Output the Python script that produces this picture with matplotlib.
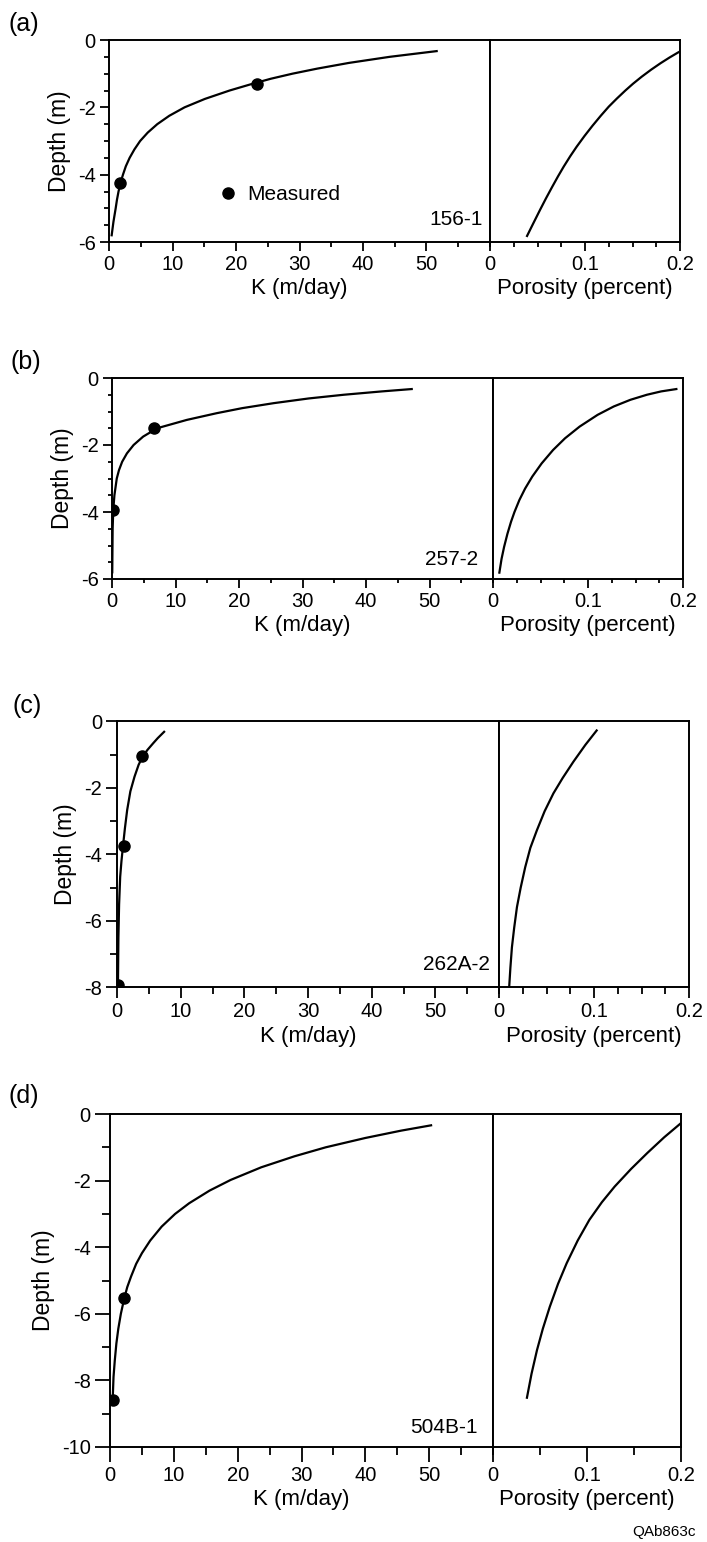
import matplotlib
matplotlib.use('Agg')
import matplotlib.pyplot as plt
from matplotlib.ticker import MultipleLocator

plt.rcParams['font.family'] = ['Liberation Sans', 'DejaVu Sans']
plt.rcParams['axes.unicode_minus'] = False

# ---- data ----
panel_letters = ['(a)', '(b)', '(c)', '(d)']
well_names = ['156-1', '257-2', '262A-2', '504B-1']
depth_min = [-6, -6, -8, -10]

k_ticks = [0, 10, 20, 30, 40, 50]
por_ticks = [0, 0.1, 0.2]
por_tick_labels = ['0', '0.1', '0.2']

# (a) 156-1
a_k_depth = [-0.33, -0.5, -0.68, -0.85, -1.0, -1.15, -1.3, -1.5, -1.75, -2.0, -2.25, -2.5,
             -2.75, -3.0, -3.25, -3.5, -3.75, -4.0, -4.25, -4.5, -4.75, -5.0, -5.4, -5.8]
a_k = [51.6, 44.2, 37.8, 32.8, 28.9, 25.5, 22.6, 19.0, 15.1, 11.9, 9.5, 7.6,
       6.1, 4.9, 4.0, 3.25, 2.65, 2.2, 1.8, 1.5, 1.25, 1.05, 0.7, 0.42]
a_meas_k = [23.3, 1.8]
a_meas_depth = [-1.3, -4.25]
a_por_depth = [-0.34, -0.37, -0.52, -0.69, -0.88, -1.09, -1.3, -1.5, -1.74, -1.98, -2.25,
               -2.55, -2.85, -3.17, -3.45, -3.76, -4.05, -4.36, -4.7, -5.05, -5.45, -5.82]
a_por = [0.2, 0.198, 0.189, 0.1795, 0.1697, 0.1597, 0.1505, 0.1425, 0.1335, 0.125, 0.1166,
         0.1078, 0.0995, 0.0912, 0.0845, 0.0776, 0.0716, 0.0655, 0.059, 0.0526, 0.0455, 0.039]

# (b) 257-2
b_k_depth = [-0.33, -0.4, -0.5, -0.61, -0.75, -0.9, -1.05, -1.25, -1.5, -1.75, -2.0,
             -2.25, -2.5, -2.75, -3.0, -3.5, -3.94, -4.5, -5.8]
b_k = [47.2, 42.5, 36.5, 31.0, 25.5, 20.5, 16.5, 11.8, 7.1, 4.9, 3.4,
       2.35, 1.6, 1.1, 0.75, 0.38, 0.2, 0.1, 0.04]
b_meas_k = [6.6, 0.2]
b_meas_depth = [-1.5, -3.94]
b_por_depth = [-0.33, -0.4, -0.5, -0.65, -0.85, -1.1, -1.45, -1.8, -2.15, -2.55, -2.94,
               -3.3, -3.64, -4.0, -4.29, -4.65, -5.04, -5.4, -5.81]
b_por = [0.193, 0.177, 0.162, 0.1447, 0.1271, 0.1101, 0.0912, 0.0758, 0.0632, 0.0512, 0.0414,
         0.0338, 0.0278, 0.0226, 0.019, 0.0152, 0.0117, 0.009, 0.0067]

# (c) 262A-2
c_k_depth = [-0.31, -0.5, -0.65, -0.85, -1.03, -1.3, -1.66, -2.1, -2.66, -3.2, -3.73,
             -4.2, -4.67, -5.5, -6.5, -7.92]
c_k = [7.4, 6.4, 5.7, 4.8, 4.1, 3.4, 2.75, 2.1, 1.6, 1.25, 0.95,
       0.7, 0.5, 0.33, 0.22, 0.15]
c_meas_k = [4.0, 1.15, 0.2]
c_meas_depth = [-1.03, -3.73, -7.92]
c_por_depth = [-0.27, -0.7, -1.21, -1.7, -2.16, -2.7, -3.27, -3.8, -4.38, -5.0, -5.58,
               -6.2, -6.79, -7.4, -7.95]
c_por = [0.1028, 0.091, 0.0783, 0.067, 0.0573, 0.048, 0.0399, 0.033, 0.0276, 0.0228, 0.0189,
         0.016, 0.0136, 0.012, 0.0108]

# (d) 504B-1
d_k_depth = [-0.34, -0.5, -0.72, -1.0, -1.27, -1.6, -1.98, -2.3, -2.68, -3.0, -3.38, -3.8,
             -4.18, -4.5, -4.88, -5.2, -5.53, -6.0, -6.45, -6.89, -7.4, -7.9, -8.58]
d_k = [50.3, 45.6, 40.0, 33.8, 28.9, 23.7, 18.9, 15.6, 12.4, 10.2, 8.1, 6.3,
       5.0, 4.1, 3.3, 2.7, 2.24, 1.7, 1.3, 1.0, 0.75, 0.55, 0.42]
d_meas_k = [2.24, 0.42]
d_meas_depth = [-5.53, -8.58]
d_por_depth = [-0.29, -0.7, -1.17, -1.65, -2.18, -2.65, -3.18, -3.8, -4.48, -5.1, -5.79,
               -6.45, -7.09, -7.8, -8.52]
d_por = [0.1993, 0.1821, 0.1642, 0.1469, 0.1294, 0.1158, 0.1025, 0.0901, 0.0784, 0.0692, 0.0604,
         0.053, 0.0468, 0.041, 0.0361]

k_curves = [(a_k, a_k_depth), (b_k, b_k_depth), (c_k, c_k_depth), (d_k, d_k_depth)]
measured = [(a_meas_k, a_meas_depth), (b_meas_k, b_meas_depth),
            (c_meas_k, c_meas_depth), (d_meas_k, d_meas_depth)]
por_curves = [(a_por, a_por_depth), (b_por, b_por_depth),
              (c_por, c_por_depth), (d_por, d_por_depth)]

# ---- layout (pixels) ----
W, H = 707, 1542
# left, mid, right, top, bottom
boxes = [(109, 490, 680, 40, 242),
         (112, 493, 683, 378, 579),
         (117, 499, 689, 721.5, 987.5),
         (110, 493, 681, 1114, 1447)]
letter_pos = [(8, 24), (10, 362), (13, 706), (8, 1096)]
name_pos = [(0.98, 0.11), (0.961, 0.095), (0.975, 0.085), (0.961, 0.06)]
y_minor = [0.5, 0.5, 1, 1]
por_minor = [0.025, 0.025, 0.025, 0.05]
tick_len = [(6.5, 3.6), (6.5, 3.2), (7.7, 5.0), (10.8, 5.8)]


def to_fig(l, r, t, b):
    return [l / W, 1 - b / H, (r - l) / W, (b - t) / H]


fig = plt.figure(figsize=(W / 100, H / 100), dpi=100)

for i in range(4):
    l, m, r, t, b = boxes[i]
    axk = fig.add_axes(to_fig(l, m, t, b))
    axp = fig.add_axes(to_fig(m, r, t, b))

    kx, ky = k_curves[i]
    axk.plot(kx, ky, color='black', lw=1.6)
    mx, my = measured[i]
    dots = axk.plot(mx, my, 'o', color='black', ms=8, ls='none', label='Measured')[0]
    px, py = por_curves[i]
    axp.plot(px, py, color='black', lw=1.6)

    axk.set_xlim(0, 60)
    axk.set_ylim(depth_min[i], 0)
    axk.set_xticks(k_ticks)
    axk.set_xticklabels([str(v) for v in k_ticks])
    axk.xaxis.set_minor_locator(MultipleLocator(5))
    axk.yaxis.set_major_locator(MultipleLocator(2))
    axk.yaxis.set_minor_locator(MultipleLocator(y_minor[i]))
    axk.set_yticklabels([str(int(v)) for v in axk.get_yticks()])

    axp.set_xlim(0, 0.2)
    axp.set_ylim(depth_min[i], 0)
    axp.set_xticks(por_ticks)
    axp.set_xticklabels(por_tick_labels)
    axp.xaxis.set_minor_locator(MultipleLocator(por_minor[i]))
    axp.set_yticks([])

    maj, mnr = tick_len[i]
    for ax in (axk, axp):
        for s in ax.spines.values():
            s.set_linewidth(1.4)
        ax.tick_params(which='major', direction='out', length=maj, width=1.3,
                       labelsize=14.5, pad=3)
        ax.tick_params(which='minor', direction='out', length=mnr, width=1.3)

    axk.set_xlabel('K (m/day)', fontsize=16, labelpad=3)
    axp.set_xlabel('Porosity (percent)', fontsize=16, labelpad=3)
    axk.set_ylabel('Depth (m)', fontsize=16.5, labelpad=5)

    axk.text(name_pos[i][0], name_pos[i][1], well_names[i], transform=axk.transAxes,
             ha='right', va='center', fontsize=15)
    fig.text(letter_pos[i][0] / W, 1 - letter_pos[i][1] / H, panel_letters[i],
             ha='left', va='center', fontsize=18)

    if i == 0:
        axk.legend(handles=[dots], loc='center left', bbox_to_anchor=(0.285, 0.233),
                   frameon=False, fontsize=15, borderpad=0, handlelength=1,
                   handletextpad=0.4, borderaxespad=0)

fig.text(696 / W, 1 - 1532 / H, 'QAb863c', ha='right', va='center', fontsize=11)

fig.savefig('out.png', dpi=100)
